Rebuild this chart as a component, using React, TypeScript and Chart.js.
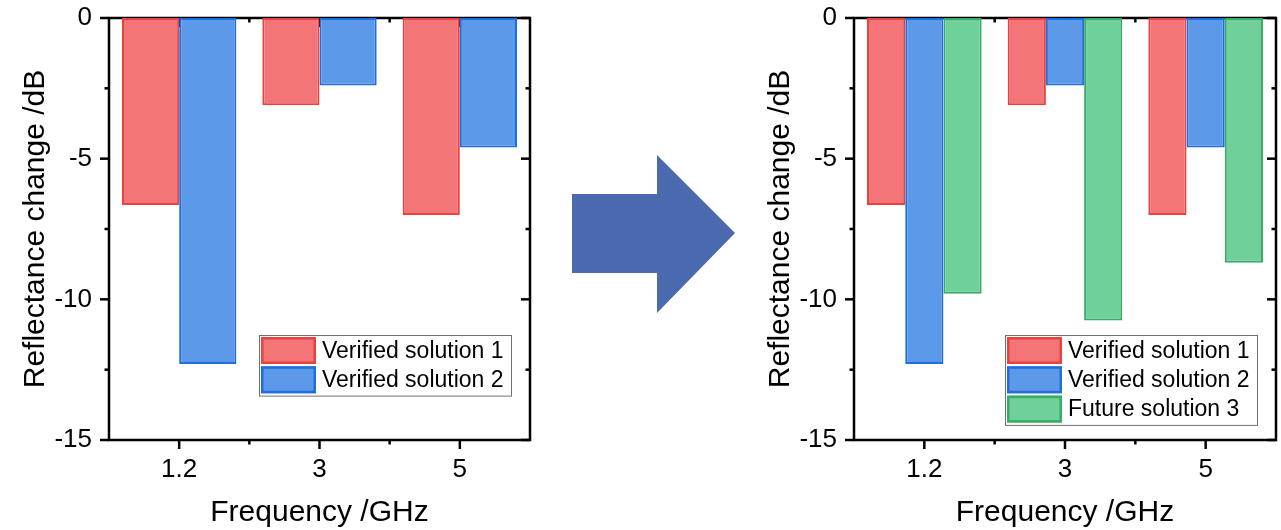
import React, { useEffect, useRef } from 'react';
import { Chart, registerables } from 'chart.js';

Chart.register(...registerables);

// ---- data ----
const categories = ['1.2', '3', '5'];
const verified1 = [-6.65, -3.1, -7.0];
const verified2 = [-12.3, -2.4, -4.6];
const future3 = [-9.8, -10.75, -8.7];
const seriesNames = ['Verified solution 1', 'Verified solution 2', 'Future solution 3'];
const yMin = -15;
const yMax = 0;
const yStep = 5;
const yMinorStep = 2.5;
const xTitle = 'Frequency /GHz';
const yTitle = 'Reflectance change /dB';

const FONT = 'Arial, "Liberation Sans", sans-serif';

const red = { bg: '#F47577', border: '#E8413F' };
const blue = { bg: '#5C99E8', border: '#1F6EDE' };
const green = { bg: '#6FD09A', border: '#3AAA67' };

function mkDs(label: string, data: number[], c: { bg: string; border: string }) {
  return {
    label,
    data,
    backgroundColor: c.bg,
    borderColor: c.border,
    borderWidth: 2,
    borderSkipped: false,
    categoryPercentage: 0.815,
    barPercentage: 1,
  };
}

const framePlugin = {
  id: 'frame',
  beforeDatasetsDraw(chart: any) {
    const { ctx, chartArea: a, scales } = chart;
    const x = scales.x;
    const y = scales.y;
    ctx.save();
    ctx.strokeStyle = '#000';
    ctx.lineWidth = 2.5;
    ctx.lineCap = 'butt';
    const line = (x1: number, y1: number, x2: number, y2: number) => {
      ctx.beginPath();
      ctx.moveTo(x1, y1);
      ctx.lineTo(x2, y2);
      ctx.stroke();
    };
    ctx.strokeRect(a.left, a.top, a.right - a.left, a.bottom - a.top);
    // y ticks: outward on the left, inward on the right
    for (let v = yMax; v >= yMin - 1e-9; v -= yMinorStep) {
      const py = y.getPixelForValue(v);
      const major = Math.abs(v % yStep) < 1e-9;
      const len = major ? 9 : 4.5;
      line(a.left - len, py, a.left, py);
      line(a.right - len, py, a.right, py);
    }
    // x ticks: outward at bottom, inward at top
    const n = categories.length;
    for (let i = 0; i < n; i++) {
      const px = x.getPixelForValue(i);
      line(px, a.bottom, px, a.bottom + 9);
      line(px, a.top, px, a.top + 9);
    }
    for (let i = 1; i < n; i++) {
      const px = (x.getPixelForValue(i - 1) + x.getPixelForValue(i)) / 2;
      line(px, a.bottom, px, a.bottom + 4.5);
      line(px, a.top, px, a.top + 4.5);
    }
    ctx.restore();
  },
};

const legendPlugin = {
  id: 'boxLegend',
  afterDraw(chart: any) {
    const { ctx, chartArea: a } = chart;
    const ds = chart.data.datasets;
    const w = 252;
    const rowH = 29.3;
    const right = a.right - 19;
    const left = right - w;
    const top = a.top + 317;
    const h = ds.length * rowH + 2;
    ctx.save();
    ctx.fillStyle = '#fff';
    ctx.fillRect(left, top, w, h);
    ctx.strokeStyle = '#707070';
    ctx.lineWidth = 1;
    ctx.strokeRect(left + 0.5, top + 0.5, w, h);
    ds.forEach((d: any, i: number) => {
      const sy = top + 2 + i * rowH;
      ctx.fillStyle = d.backgroundColor;
      ctx.fillRect(left + 2, sy, 55, 27);
      ctx.strokeStyle = d.borderColor;
      ctx.lineWidth = 2.5;
      ctx.strokeRect(left + 3.25, sy + 1.25, 52.5, 24.5);
      ctx.fillStyle = '#000';
      ctx.font = `23px ${FONT}`;
      ctx.textBaseline = 'middle';
      ctx.textAlign = 'left';
      ctx.fillText(d.label, left + 63, sy + 14.5);
    });
    ctx.restore();
  },
};

function BarChart({ datasets, width, left, padRight }: { datasets: any[]; width: number; left: number; padRight: number }) {
  const ref = useRef<HTMLCanvasElement>(null);
  useEffect(() => {
    const chart = new Chart(ref.current as HTMLCanvasElement, {
      type: 'bar',
      data: { labels: categories, datasets },
      options: {
        animation: false,
        responsive: false,
        layout: { padding: { top: 18, left: 0, right: padRight, bottom: 0 } },
        plugins: { legend: { display: false }, tooltip: { enabled: false } },
        scales: {
          x: {
            offset: true,
            grid: { display: false, drawTicks: false },
            border: { display: false },
            ticks: { font: { family: FONT, size: 26 }, color: '#000', padding: 14, maxRotation: 0 },
            title: {
              display: true,
              text: xTitle,
              font: { family: FONT, size: 30 },
              color: '#000',
              padding: { top: 0, bottom: -1 },
            },
            afterFit: (s: any) => {
              s.height = 90;
              s.paddingLeft = 0;
              s.paddingRight = 0;
            },
          },
          y: {
            min: yMin,
            max: yMax,
            grid: { display: false, drawTicks: false },
            border: { display: false },
            ticks: { stepSize: yStep, font: { family: FONT, size: 26 }, color: '#000', padding: 17 },
            title: {
              display: true,
              text: yTitle,
              font: { family: FONT, size: 30 },
              color: '#000',
              padding: { top: 18, bottom: 0 },
            },
            afterFit: (s: any) => {
              s.width = 109;
              s.paddingTop = 0;
              s.paddingBottom = 0;
            },
          },
        },
      } as any,
      plugins: [framePlugin, legendPlugin],
    });
    return () => chart.destroy();
  }, []);
  return (
    <canvas
      ref={ref}
      width={width}
      height={530}
      style={{ position: 'absolute', left, top: 0, width, height: 530, display: 'block' }}
    />
  );
}

export default function App() {
  const leftSets = [mkDs(seriesNames[0], verified1, red), mkDs(seriesNames[1], verified2, blue)];
  const rightSets = [
    mkDs(seriesNames[0], verified1, red),
    mkDs(seriesNames[1], verified2, blue),
    mkDs(seriesNames[2], future3, green),
  ];
  return (
    <div style={{ position: 'fixed', left: 0, top: 0, width: 1281, height: 530, background: '#fff', overflow: 'hidden' }}>
      <BarChart datasets={leftSets} width={560} left={0} padRight={30} />
      <svg width={1281} height={530} style={{ position: 'absolute', left: 0, top: 0, pointerEvents: 'none' }}>
        <polygon points="572,194 657,194 657,155 735,233 657,313 657,273 572,273" fill="#4A69AE" />
      </svg>
      <BarChart datasets={rightSets} width={536} left={745} padRight={5} />
    </div>
  );
}
